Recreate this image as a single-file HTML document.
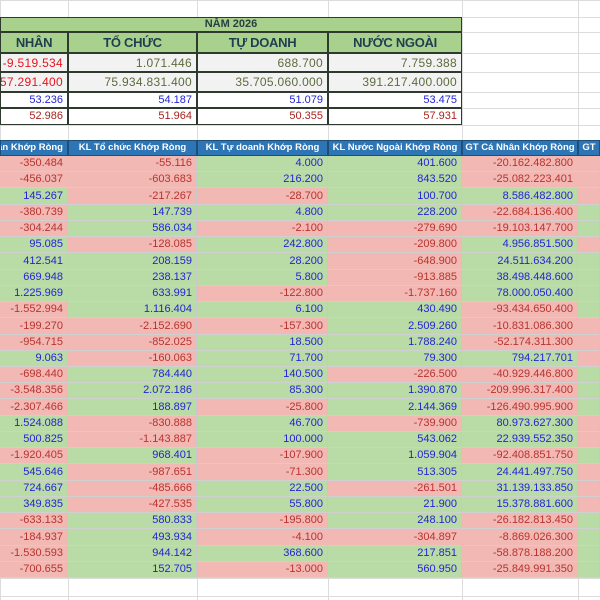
<!DOCTYPE html>
<html><head><meta charset="utf-8">
<style>
body{margin:0;width:600px;height:600px;overflow:hidden;background:#fff;font-family:"Liberation Sans","DejaVu Sans",sans-serif;position:relative}
.c{position:absolute;box-sizing:border-box;font-size:11px;line-height:1;display:flex;align-items:center;white-space:nowrap;overflow:hidden}
.r{justify-content:flex-end;padding-right:4px}
.m{justify-content:center}
.g{position:absolute;background:#dcdcdc}
</style></head><body>
<div id="root"></div>
<script>
const colX=[0,68,197,328,462,578,600];
const sumHeaders=["NHÂN","TỔ CHỨC","TỰ DOANH","NƯỚC NGOÀI"];
const sumRow1=["-9.519.534","1.071.446","688.700","7.759.388"];
const sumRow2=["857.291.400","75.934.831.400","35.705.060.000","391.217.400.000"];
const sumRow3=["53.236","54.187","51.079","53.475"];
const sumRow4=["52.986","51.964","50.355","57.931"];
const headers=["hân Khớp Ròng","KL Tổ chức Khớp Ròng","KL Tự doanh Khớp Ròng","KL Nước Ngoài Khớp Ròng","GT Cá Nhân Khớp Ròng","GT"];
const klCaNhan=["-350.484","-456.037","145.267","-380.739","-304.244","95.085","412.541","669.948","1.225.969","-1.552.994","-199.270","-954.715","9.063","-698.440","-3.548.356","-2.307.466","1.524.088","500.825","-1.920.405","545.646","724.667","349.835","-633.133","-184.937","-1.530.593","-700.655"];
const klToChuc=["-55.116","-603.683","-217.267","147.739","586.034","-128.085","208.159","238.137","633.991","1.116.404","-2.152.690","-852.025","-160.063","784.440","2.072.186","188.897","-830.888","-1.143.887","968.401","-987.651","-485.666","-427.535","580.833","493.934","944.142","152.705"];
const klTuDoanh=["4.000","216.200","-28.700","4.800","-2.100","242.800","28.200","5.800","-122.800","6.100","-157.300","18.500","71.700","140.500","85.300","-25.800","46.700","100.000","-107.900","-71.300","22.500","55.800","-195.800","-4.100","368.600","-13.000"];
const klNuocNgoai=["401.600","843.520","100.700","228.200","-279.690","-209.800","-648.900","-913.885","-1.737.160","430.490","2.509.260","1.788.240","79.300","-226.500","1.390.870","2.144.369","-739.900","543.062","1.059.904","513.305","-261.501","21.900","248.100","-304.897","217.851","560.950"];
const gtCaNhan=["-20.162.482.800","-25.082.223.401","8.586.482.800","-22.684.136.400","-19.103.147.700","4.956.851.500","24.511.634.200","38.498.448.600","78.000.050.400","-93.434.650.400","-10.831.086.300","-52.174.311.300","794.217.701","-40.929.446.800","-209.996.317.400","-126.490.995.900","80.973.627.300","22.939.552.350","-92.408.851.750","24.441.497.750","31.139.133.850","15.378.881.600","-26.182.813.450","-8.869.026.300","-58.878.188.200","-25.849.991.350"];
const gtToChuc=klToChuc;
const root=document.getElementById('root');
function cell(x,y,w,h,text,cls,bg,color,extra){
  const d=document.createElement('div');
  d.className='c '+cls;
  d.style.cssText=`left:${x}px;top:${y}px;width:${w}px;height:${h}px;background:${bg};color:${color};${extra||''}`;
  d.textContent=text;
  root.appendChild(d);return d;
}
for(let i=0;i<colX.length;i++){const g=document.createElement('div');g.className='g';g.style.cssText=`left:${colX[i]}px;top:0;width:1px;height:600px`;root.appendChild(g);}
[0,17,32,53,72,92,108,125,140,156,578,596].forEach(y=>{const g=document.createElement('div');g.className='g';g.style.cssText=`left:0;top:${y}px;width:600px;height:1px`;root.appendChild(g);});
const bd='border:1px solid #2d3a2d;';
let e=cell(0,17,462,15,"NĂM 2026","m","#a9d18e","#2a3f3f",bd+"font-weight:bold;font-size:11px");

const sumRows=[[sumRow1,53,19,"#f2f2f2"],[sumRow2,72,20,"#f2f2f2"],[sumRow3,92,16,"#fff"],[sumRow4,108,17,"#fff"]];
for(let i=0;i<4;i++){
  e=cell(colX[i],32,colX[i+1]-colX[i],21,sumHeaders[i],"m","#a9d18e","#1f3f4f",bd+"font-weight:bold;font-size:13px;letter-spacing:-0.3px");
  
  sumRows.forEach((r,ri)=>{
    const v=r[0][i];let col;
    if(ri<2) col=(i===0)?"#e8141e":"#5c6b3c";
    else if(ri===2) col="#2323d6"; else col="#a8231f";
    e=cell(colX[i],r[1],colX[i+1]-colX[i],r[2],v,"r",r[3],col,"border:1px solid #2d3a2d;font-size:"+(ri<2?12:11)+"px;"+(ri<2?"letter-spacing:0.3px":""));
    
  });
}
for(let i=0;i<6;i++){
  e=cell(colX[i],140,colX[i+1]-colX[i],16,headers[i],i==0?"r":"m","#2e75b6","#fff","border:1px solid #1f4e79;font-weight:bold;font-size:9.5px");
  
}
const cols=[klCaNhan,klToChuc,klTuDoanh,klNuocNgoai,gtCaNhan,gtToChuc];
const rh=(578-156)/klCaNhan.length;
for(let r=0;r<klCaNhan.length;r++){
  for(let c=0;c<6;c++){
    const v=cols[c][r];const neg=v.charAt(0)==='-';
    const y=Math.round(156+r*rh),y2=Math.round(156+(r+1)*rh);
    e=cell(colX[c],y,colX[c+1]-colX[c],y2-y,c===5?"":v,"r",neg?"#f2b8b4":"#b9dba5",neg?"#b8332e":"#2323d6","border-right:1px solid #c8c8c8;border-bottom:1px solid #d0d0d0");
    
    
  }
}
</script>
</body></html>
